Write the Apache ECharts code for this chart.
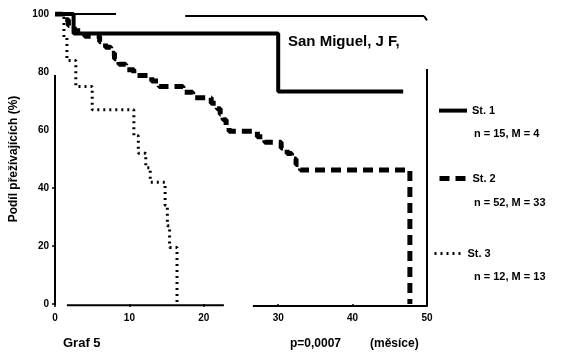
<!DOCTYPE html>
<html>
<head>
<meta charset="utf-8">
<script src="https://cdn.jsdelivr.net/npm/echarts@6/dist/echarts.min.js"></script>
<style>
  html, body { margin: 0; padding: 0; background: #fff; }
  #chart { width: 574px; height: 362px; }
</style>
</head>
<body>
<div id="chart"></div>
<script>
// Kaplan–Meier survival by stage (months, % surviving)
const xTicks = [0, 10, 20, 30, 40, 50];
const yTicks = [0, 20, 40, 60, 80, 100];
const seriesNames = ['St. 1', 'St. 2', 'St. 3'];
const groupInfo = ['n = 15, M = 4', 'n = 52, M = 33', 'n = 12, M = 13'];

const st1 = [[0, 100], [2.5, 93.3], [30, 73.3], [46.8, 73.3]];
const st2 = [
  [0, 100], [1, 98], [1.8, 96], [2.6, 94.2], [4, 92.3], [6, 90.4], [6.8, 88.5],
  [7.5, 86.5], [8, 84.6], [8.6, 82.7], [9.5, 80.8], [10.6, 78.8], [13, 76.9],
  [14, 75], [17.2, 73], [18.5, 71.1], [21, 69.2], [21.8, 67.3], [22.2, 65.4],
  [22.6, 63.5], [23, 61.5], [23.4, 59.6], [27.2, 57.7], [28.2, 55.8], [30.4, 53.8],
  [31.2, 51.9], [31.8, 50], [32.4, 48.1], [33, 46.2], [47.7, 46.2], [47.7, 0]
];
const st3 = [
  [0, 100], [1.2, 92], [1.6, 84], [2.8, 75], [5, 67], [10.6, 58], [11.2, 52],
  [12.2, 47], [12.8, 42], [14.8, 34], [15.1, 27], [15.4, 19.5], [16.4, 0]
];

const FONT = '"Liberation Sans", Arial, sans-serif';
const chart = echarts.init(document.getElementById('chart'), null, { renderer: 'canvas' });

const lineStyles = [
  { color: '#000', width: 4, type: 'solid' },
  { color: '#000', width: 5, type: [10, 6] },
  { color: '#000', width: 3, type: [2, 4] }
];
const legendTops = [105, 173, 248];
const legendLefts = [437, 437, 433];

const option = {
  animation: false,
  backgroundColor: '#fff',
  title: {
    text: 'San Miguel, J F,',
    left: 283, top: 29,
    textStyle: { fontFamily: FONT, fontSize: 15, fontWeight: 'bold', color: '#000' }
  },
  grid: { left: 48, right: 147, top: 14, bottom: 58 },
  xAxis: {
    type: 'value', min: 0, max: 50, interval: 10,
    axisLine: { show: false },
    axisTick: { show: true, length: 3, lineStyle: { color: '#000', width: 1.5 } },
    splitLine: { show: false },
    axisLabel: {
      margin: 9, color: '#000', fontFamily: FONT, fontSize: 10, fontWeight: 'bold',
      formatter: v => (xTicks.includes(v) ? String(v) : '')
    }
  },
  yAxis: {
    type: 'value', min: 0, max: 100, interval: 20,
    name: 'Podíl přežívajících (%)',
    nameLocation: 'middle', nameGap: 35, nameRotate: 90,
    nameTextStyle: { fontFamily: FONT, fontSize: 12, fontWeight: 'bold', color: '#000' },
    axisLine: { show: false },
    axisTick: { show: false },
    splitLine: { show: false },
    axisLabel: {
      margin: 6, color: '#000', fontFamily: FONT, fontSize: 10, fontWeight: 'bold',
      formatter: v => (yTicks.includes(v) ? String(v) : '')
    }
  },
  legend: seriesNames.map((n, i) => ({
    data: [n], orient: 'vertical', left: legendLefts[i], top: legendTops[i],
    itemWidth: 28, itemHeight: 14, padding: 0, selectedMode: false,
    itemStyle: { opacity: 0 },
    lineStyle: { width: lineStyles[i].width, type: lineStyles[i].type, color: '#000' },
    textStyle: { fontFamily: FONT, fontSize: 11, fontWeight: 'bold', color: '#000' }
  })),
  series: [st1, st2, st3].map((d, i) => ({
    name: seriesNames[i], type: 'line', step: 'end', data: d,
    symbol: 'none', lineStyle: lineStyles[i], itemStyle: { color: '#000' },
    z: 3 - i
  }))
};
chart.setOption(option);

// Broken frame around the plot area, placed in axis units
const frameSegments = [
  [[0, 79], [0, -0.4]],
  [[1.6, -0.4], [22.7, -0.4]],
  [[26.6, -0.7], [50, -0.7]],
  [[50, -0.7], [50, 81]],
  [[0, 100], [8.2, 100]],
  [[17.5, 99.3], [49.6, 99.3]],
  [[49.6, 99.3], [50, 97.8]]
];
const toPx = p => chart.convertToPixel({ gridIndex: 0 }, p);
const graphics = frameSegments.map(([a, b]) => {
  const p1 = toPx(a), p2 = toPx(b);
  return {
    type: 'line', silent: true,
    shape: { x1: p1[0], y1: p1[1], x2: p2[0], y2: p2[1] },
    style: { stroke: '#000', lineWidth: 2 }
  };
});
// Small ticks on the left axis
[0, 20, 40].forEach(v => {
  const p = toPx([0, v]);
  graphics.push({
    type: 'line', silent: true,
    shape: { x1: p[0] - 3, y1: p[1], x2: p[0], y2: p[1] },
    style: { stroke: '#000', lineWidth: 1.5 }
  });
});
// Group sizes under each legend entry
const infoTops = [128, 197, 271];
groupInfo.forEach((t, i) => {
  graphics.push({
    type: 'text', left: 474, top: infoTops[i], silent: true,
    style: { text: t, fill: '#000', font: 'bold 11px ' + FONT }
  });
});
graphics.push(
  { type: 'text', left: 63, top: 337, silent: true,
    style: { text: 'Graf 5', fill: '#000', font: 'bold 13px ' + FONT } },
  { type: 'text', left: 290, top: 338, silent: true,
    style: { text: 'p=0,0007', fill: '#000', font: 'bold 12px ' + FONT } },
  { type: 'text', left: 370, top: 338, silent: true,
    style: { text: '(měsíce)', fill: '#000', font: 'bold 12px ' + FONT } }
);
chart.setOption({ graphic: graphics });
</script>
</body>
</html>
